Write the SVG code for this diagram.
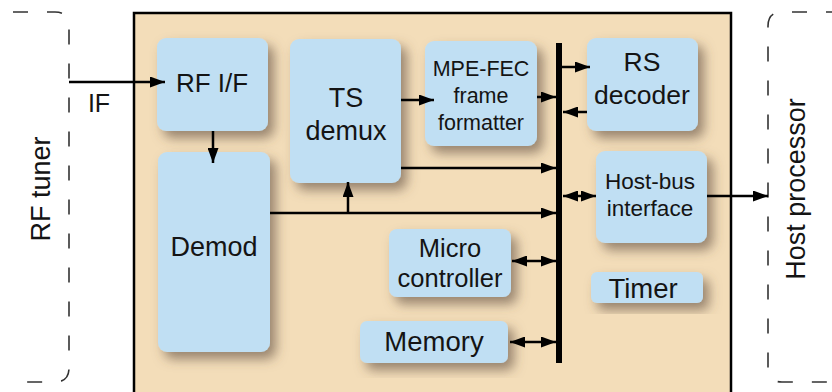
<svg xmlns="http://www.w3.org/2000/svg" width="832" height="392" viewBox="0 0 832 392">
<style>
.box{fill:#c0dff3;filter:url(#sh)}
.t{font-family:"Liberation Sans",Arial,sans-serif;fill:#141414;text-anchor:middle}
.ln{stroke:#000;stroke-width:2.5;fill:none}
.a{marker-end:url(#ah)}
.d{marker-start:url(#ah);marker-end:url(#ah)}
.dash{fill:none;stroke:#333;stroke-width:1.6;stroke-dasharray:15 19}
</style>
<defs>
<filter id="sh" x="-25%" y="-25%" width="160%" height="160%">
<feDropShadow dx="6" dy="7" stdDeviation="6" flood-color="#5a4a3c" flood-opacity="0.6"/>
</filter>
<marker id="ah" markerUnits="userSpaceOnUse" markerWidth="15" markerHeight="11" refX="15" refY="5.5" orient="auto-start-reverse">
<path d="M0,0 L15,5.5 L0,11 z" fill="#000"/>
</marker>
</defs>
<rect width="832" height="392" fill="#fff"/>
<g id="rf-tuner">
<path class="dash" d="M13 12 H55 Q69 12 69 26 V368 Q69 382 55 382 H13"/>
<text class="t" font-size="27" transform="translate(50,189) rotate(-90)">RF tuner</text>
</g>
<g id="host-processor">
<path class="dash" d="M832 12 H782 Q768 12 768 26 V368 Q768 382 782 382 H832" stroke-dashoffset="9"/>
<text class="t" font-size="27" transform="translate(805,189) rotate(-90)">Host processor</text>
</g>
<g id="chip">
<rect x="134" y="13" width="597" height="390" fill="#f3ddb9" stroke="#000" stroke-width="2.5"/>
</g>
<g id="rf-if">
<rect class="box" x="157" y="38" width="111" height="93" rx="9"/>
<text class="t" font-size="26" x="212" y="92">RF I/F</text>
</g>
<g id="demod">
<rect class="box" x="158" y="152" width="112" height="200" rx="9"/>
<text class="t" font-size="27" x="214" y="256">Demod</text>
</g>
<g id="ts-demux">
<rect class="box" x="290" y="39" width="111" height="144" rx="9"/>
<text class="t" font-size="27" x="346" y="107">TS</text>
<text class="t" font-size="27" x="346" y="140">demux</text>
</g>
<g id="mpe-fec">
<rect class="box" x="425" y="41" width="112" height="105" rx="9"/>
<text class="t" font-size="21.5" x="481" y="76">MPE-FEC</text>
<text class="t" font-size="21.5" x="481" y="103">frame</text>
<text class="t" font-size="21.5" x="481" y="130">formatter</text>
</g>
<g id="rs-decoder">
<rect class="box" x="587" y="38" width="111" height="93" rx="9"/>
<text class="t" font-size="26.5" x="642" y="71">RS</text>
<text class="t" font-size="26.5" x="642" y="104">decoder</text>
</g>
<g id="host-bus">
<rect class="box" x="596" y="151" width="111" height="92" rx="9"/>
<text class="t" font-size="22.5" x="650" y="189">Host-bus</text>
<text class="t" font-size="22.5" x="650" y="216">interface</text>
</g>
<g id="micro">
<rect class="box" x="389" y="229" width="122" height="68" rx="8"/>
<text class="t" font-size="25.5" x="450" y="257">Micro</text>
<text class="t" font-size="25.5" x="450" y="287">controller</text>
</g>
<g id="memory">
<rect class="box" x="360" y="321" width="148" height="42" rx="7"/>
<text class="t" font-size="27.5" x="434" y="351">Memory</text>
</g>
<g id="timer">
<rect class="box" x="591" y="272" width="112" height="31" rx="6"/>
<text class="t" font-size="27.5" x="643" y="298">Timer</text>
</g>
<g id="if-label">
<text class="t" font-size="25" x="99" y="112">IF</text>
</g>
<g id="connectors">
<line x1="559" y1="43" x2="559" y2="363" stroke="#000" stroke-width="6"/>
<line class="ln a" x1="69" y1="82" x2="165" y2="82"/>
<line class="ln a" x1="213" y1="131" x2="213" y2="163"/>
<line class="ln a" x1="401" y1="100" x2="434" y2="100"/>
<line class="ln a" x1="537" y1="97" x2="556" y2="97"/>
<line class="ln a" x1="401" y1="168" x2="556" y2="168"/>
<line class="ln a" x1="270" y1="213" x2="556" y2="213"/>
<line class="ln a" x1="348" y1="213" x2="348" y2="182"/>
<line class="ln a" x1="562" y1="67" x2="590" y2="67"/>
<line class="ln a" x1="587" y1="112" x2="563" y2="112"/>
<line class="ln d" x1="563" y1="196" x2="596" y2="196"/>
<line class="ln a" x1="707" y1="196" x2="768" y2="196"/>
<line class="ln d" x1="512" y1="261" x2="556" y2="261"/>
<line class="ln d" x1="510" y1="342" x2="556" y2="342"/>
</g>
</svg>
